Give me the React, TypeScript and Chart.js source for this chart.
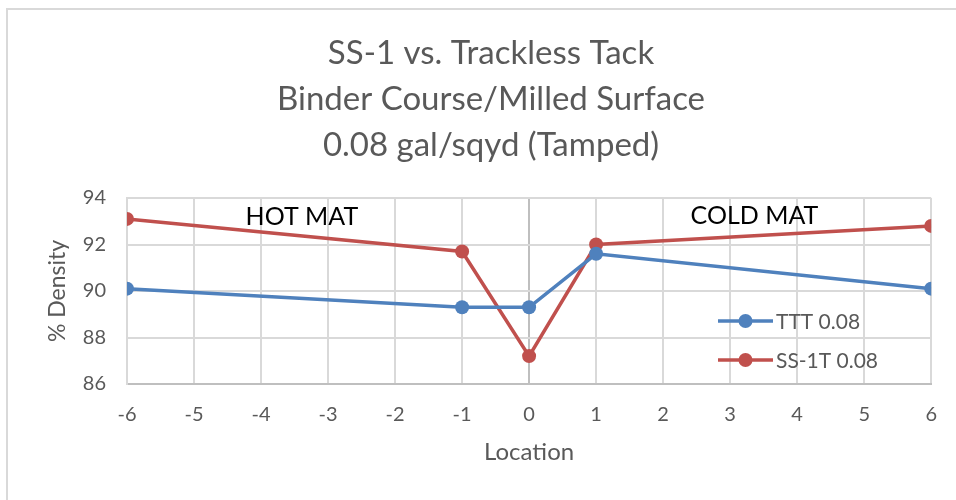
import React, { useEffect, useRef } from "react";
import { Chart, registerables } from "chart.js";

Chart.register(...registerables);

const locations = [-6, -1, 0, 1, 6];
const tttValues = [90.1, 89.3, 89.3, 91.6, 90.1];
const ss1tValues = [93.1, 91.7, 87.2, 92.0, 92.8];
const seriesNames = ["TTT 0.08", "SS-1T 0.08"];
const titleLines = ["SS-1 vs. Trackless Tack", "Binder Course/Milled Surface", "0.08 gal/sqyd (Tamped)"];
const annotations = [
  { text: "HOT MAT", x: -4.23, y: 93.2 },
  { text: "COLD MAT", x: 2.41, y: 93.25 },
];

const FONT = "Lato, 'Open Sans', sans-serif";
const BLUE = "#4f81bd";
const RED = "#c0504d";

const overlay = {
  id: "overlay",
  afterDraw(chart: any) {
    const { ctx, scales } = chart;
    ctx.save();
    // outer border (only top and left visible)
    ctx.strokeStyle = "#d9d9d9";
    ctx.lineWidth = 2;
    ctx.beginPath();
    ctx.moveTo(7, 520);
    ctx.lineTo(7, 9);
    ctx.lineTo(980, 9);
    ctx.stroke();
    // title
    ctx.fillStyle = "#595959";
    ctx.font = `33px ${FONT}`;
    ctx.textAlign = "center";
    ctx.textBaseline = "middle";
    titleLines.forEach((t, i) => ctx.fillText(t, 491, 53 + i * 46));
    // annotations
    ctx.fillStyle = "#000000";
    ctx.font = `25px ${FONT}`;
    ctx.textAlign = "left";
    annotations.forEach((a) => {
      ctx.fillText(a.text, scales.x.getPixelForValue(a.x), scales.y.getPixelForValue(a.y));
    });
    // legend
    const ds = chart.data.datasets;
    ctx.font = `21px ${FONT}`;
    ds.forEach((d: any, i: number) => {
      const y = 321 + i * 39;
      ctx.strokeStyle = d.borderColor;
      ctx.lineWidth = 3.5;
      ctx.beginPath();
      ctx.moveTo(718, y);
      ctx.lineTo(773, y);
      ctx.stroke();
      ctx.fillStyle = d.backgroundColor;
      ctx.beginPath();
      ctx.arc(745.5, y, 7, 0, Math.PI * 2);
      ctx.fill();
      ctx.fillStyle = "#595959";
      ctx.textBaseline = "middle";
      ctx.fillText(d.label, 776, y + 1);
    });
    ctx.restore();
  },
};

export default function App() {
  const ref = useRef<HTMLCanvasElement>(null);
  useEffect(() => {
    document.body.style.margin = "0";
    const toPts = (vals: number[]) => locations.map((x, i) => ({ x, y: vals[i] }));
    const chart = new Chart(ref.current!, {
      type: "line",
      data: {
        datasets: [
          {
            label: seriesNames[0],
            data: toPts(tttValues),
            borderColor: BLUE,
            backgroundColor: BLUE,
            borderWidth: 3.5,
            pointRadius: 7,
            pointHoverRadius: 7,
            pointBorderWidth: 0,
          },
          {
            label: seriesNames[1],
            data: toPts(ss1tValues),
            borderColor: RED,
            backgroundColor: RED,
            borderWidth: 3.5,
            pointRadius: 7,
            pointHoverRadius: 7,
            pointBorderWidth: 0,
          },
        ],
      },
      options: {
        animation: false,
        responsive: false,
        layout: { padding: { left: 0, top: 198, right: 24, bottom: 0 } },
        plugins: { legend: { display: false }, title: { display: false }, tooltip: { enabled: false } },
        scales: {
          x: {
            type: "linear",
            min: -6,
            max: 6,
            afterFit: (s: any) => { s.height = 116; },
            ticks: { stepSize: 1, color: "#595959", font: { family: FONT, size: 20 }, padding: 19 },
            grid: {
              drawTicks: false,
              lineWidth: 2,
              color: (c: any) => (c.tick && c.tick.value === 0 ? "#bfbfbf" : "#d9d9d9"),
            },
            border: { color: "#bfbfbf", width: 2 },
            title: { display: true, text: "Location", color: "#595959", font: { family: FONT, size: 24 }, padding: { top: 0, bottom: 33 } },
          },
          y: {
            min: 86,
            max: 94,
            afterFit: (s: any) => { s.width = 127; },
            ticks: { stepSize: 2, color: "#595959", font: { family: FONT, size: 20 }, padding: 21 },
            grid: { drawTicks: false, lineWidth: 2, color: "#d9d9d9" },
            border: { color: "#d9d9d9", width: 2 },
            title: { display: true, text: "% Density", color: "#595959", font: { family: FONT, size: 23 }, padding: { top: 44, bottom: 0 } },
          },
        },
      },
      plugins: [overlay],
    });
    return () => chart.destroy();
  }, []);
  return (
    <div style={{ position: "absolute", left: 0, top: 0, width: 956, height: 500, background: "#fff" }}>
      <canvas ref={ref} width={956} height={500} style={{ width: 956, height: 500 }} />
    </div>
  );
}
